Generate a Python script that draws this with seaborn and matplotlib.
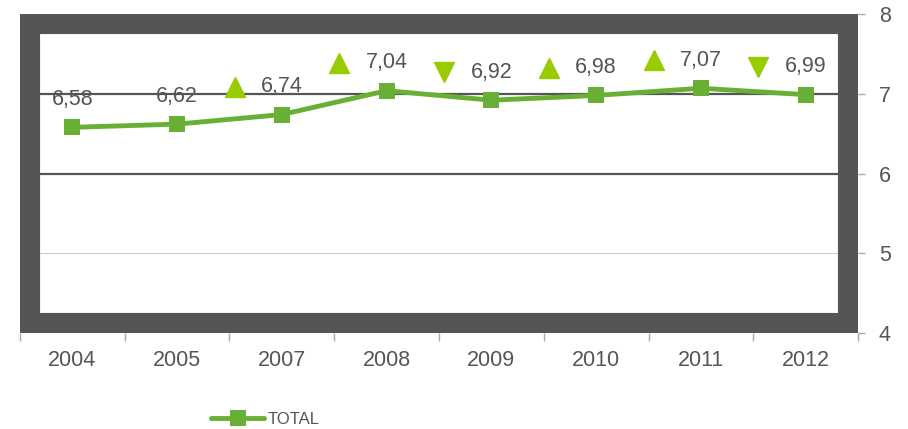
import matplotlib
matplotlib.use("Agg")
import matplotlib.pyplot as plt
import matplotlib.transforms as mtransforms
from matplotlib.patches import Rectangle
import seaborn as sns
import pandas as pd

# Data
years = ["2004", "2005", "2007", "2008", "2009", "2010", "2011", "2012"]
total = [6.58, 6.62, 6.74, 7.04, 6.92, 6.98, 7.07, 6.99]
trend = [None, None, "up", "up", "down", "up", "up", "down"]
y_ticks = [4, 5, 6, 7, 8]

line_green = "#6AAF35"
arrow_green = "#99CC00"
text_grey = "#555555"

df = pd.DataFrame({"Year": years, "TOTAL": total})

sns.set_theme(style="white")
plt.rcParams["font.family"] = ["Liberation Sans", "DejaVu Sans"]

fig = plt.figure(figsize=(9.08, 4.29), dpi=100)
ax = fig.add_axes([0.022, 0.224, 0.923, 0.743])

# gridlines (6 and 7 dark, 5 light)
ax.axhline(7, color=text_grey, lw=1.6, zorder=1)
ax.axhline(6, color=text_grey, lw=1.6, zorder=1)
ax.axhline(5, color="#CCCCCC", lw=0.8, zorder=1)

sns.lineplot(data=df, x="Year", y="TOTAL", sort=False, color=line_green, lw=3.5,
             marker="s", markersize=12, markeredgewidth=0, label="TOTAL", ax=ax, zorder=3)

ax.set_xlim(-0.5, len(years) - 0.5)
ax.set_ylim(4, 8)

# thick dark frame inside the plot area
fx = 10 / 838
fy = 10 / 319
ax.add_patch(Rectangle((fx, fy), 1 - 2 * fx, 1 - 2 * fy, transform=ax.transAxes,
                       fill=False, ec=text_grey, lw=14.5, joinstyle="miter", zorder=4))
for s in ax.spines.values():
    s.set_visible(False)

# data labels and trend arrows
lbl_tr = mtransforms.offset_copy(ax.transData, fig=fig, x=0, y=20, units="points")
tri_tr = mtransforms.offset_copy(ax.transData, fig=fig, x=-34, y=20, units="points")
for i, (v, t) in enumerate(zip(total, trend)):
    ax.text(i, v, f"{v:.2f}".replace(".", ","), transform=lbl_tr, ha="center", va="center",
            fontsize=15.5, color=text_grey, zorder=5)
    if t is not None:
        ax.plot([i], [v], marker="^" if t == "up" else "v", markersize=14,
                color=arrow_green, transform=tri_tr, zorder=5, ls="none")

# axes ticks
ax.yaxis.tick_right()
ax.set_yticks(y_ticks)
ax.set_xticks(range(len(years)))
ax.set_xticklabels(years)
ax.set_xticks([i - 0.5 for i in range(len(years) + 1)], minor=True)
ax.tick_params(axis="x", which="major", length=0, pad=12, labelsize=15.5, labelcolor=text_grey)
ax.tick_params(axis="x", which="minor", length=6, width=1, color="#AAAAAA", bottom=True)
ax.tick_params(axis="y", which="major", length=5, width=1, color="#AAAAAA", right=True,
               pad=10, labelsize=15.5, labelcolor=text_grey)
ax.set_xlabel("")
ax.set_ylabel("")

leg = ax.legend(loc="lower left", bbox_to_anchor=(0.225, -0.01), bbox_transform=fig.transFigure,
                frameon=False, fontsize=12, handlelength=3.2, handletextpad=0.2, borderaxespad=0)
for t in leg.get_texts():
    t.set_color(text_grey)

fig.savefig("out.png", dpi=100)
